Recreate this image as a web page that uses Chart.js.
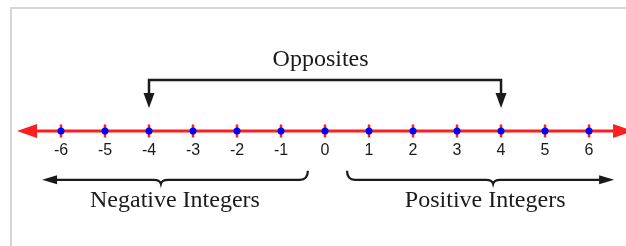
<!DOCTYPE html>
<html>
<head>
<meta charset="utf-8">
<script src="https://cdn.jsdelivr.net/npm/chart.js@4.4.0/dist/chart.umd.min.js"></script>
<style>
  html, body { margin: 0; padding: 0; background: #fff; overflow: hidden; }
  #wrap { position: relative; width: 626px; height: 246px; overflow: hidden; }
  #frame { position: absolute; left: 10px; top: 7px; width: 660px; height: 300px; border-top: 2px solid #d6d6d6; border-left: 2px solid #d6d6d6; }
  canvas { position: absolute; left: 0; top: 0; }
</style>
</head>
<body>
<div id="wrap">
  <div id="frame"></div>
  <canvas id="numberLine" width="626" height="246"></canvas>
</div>
<script>
// integers marked on the line
const tickValues = [-6, -5, -4, -3, -2, -1, 0, 1, 2, 3, 4, 5, 6];
// the pair joined by the "Opposites" bracket
const oppositePair = [-4, 4];
// where the number line arrows end
const axisRange = [-7, 7];
// spans covered by the two braces, and where each brace has its point
const negativeRange = [-6.43, -0.39];
const positiveRange = [0.5, 6.57];
const braceCusps = [-3.73, 3.82];
const labelCenters = [-0.1, -3.41, 3.64];
const labelTexts = ['Opposites', 'Negative Integers', 'Positive Integers'];

const RED = 'rgb(255, 30, 30)';
const BLUE = '#0000ff';
const INK = '#1a1a1a';

// vertical levels (y scale units, number line at 0)
const bracketTop = 1.16;
const bracketTip = 0.52;
const braceLevel = -1.11;
const oppositesBaseline = 1.47;
const braceTextBaseline = -1.73;

function arrowHead(ctx, tx, ty, dir, len, half) {
    ctx.beginPath();
    ctx.moveTo(tx, ty);
    if (dir === 'left') {
        ctx.lineTo(tx + len, ty - half);
        ctx.lineTo(tx + len, ty + half);
    } else if (dir === 'right') {
        ctx.lineTo(tx - len, ty - half);
        ctx.lineTo(tx - len, ty + half);
    } else {
        ctx.lineTo(tx - half, ty - len);
        ctx.lineTo(tx + half, ty - len);
    }
    ctx.closePath();
    ctx.fill();
}

const drawings = {
    id: 'drawings',
    beforeDatasetsDraw(chart) {
        const { ctx, scales: { x, y } } = chart;
        const y0 = y.getPixelForValue(0);
        const xl = x.getPixelForValue(axisRange[0]);
        const xr = x.getPixelForValue(axisRange[1]);
        ctx.save();
        ctx.strokeStyle = RED;
        ctx.fillStyle = RED;
        ctx.lineWidth = 3;
        ctx.beginPath();
        ctx.moveTo(xl + 12, y0);
        ctx.lineTo(xr - 12, y0);
        ctx.stroke();
        arrowHead(ctx, xl, y0, 'left', 20, 7);
        arrowHead(ctx, xr, y0, 'right', 20, 7);
        ctx.restore();
    },
    afterDatasetsDraw(chart) {
        const { ctx, scales: { x, y } } = chart;
        ctx.save();
        ctx.strokeStyle = INK;
        ctx.fillStyle = INK;
        ctx.lineWidth = 2.5;
        ctx.lineJoin = 'miter';

        // opposites bracket
        const ax = x.getPixelForValue(oppositePair[0]);
        const bx = x.getPixelForValue(oppositePair[1]);
        const top = y.getPixelForValue(bracketTop);
        const tip = y.getPixelForValue(bracketTip);
        ctx.beginPath();
        ctx.moveTo(ax, tip - 12);
        ctx.lineTo(ax, top);
        ctx.lineTo(bx, top);
        ctx.lineTo(bx, tip - 12);
        ctx.stroke();
        arrowHead(ctx, ax, tip, 'down', 15, 5.5);
        arrowHead(ctx, bx, tip, 'down', 15, 5.5);

        // braces
        const yl = y.getPixelForValue(braceLevel);
        ctx.lineWidth = 2.2;
        const cusp = (cx) => {
            ctx.lineTo(cx - 7, yl);
            ctx.quadraticCurveTo(cx - 1, yl, cx, yl + 4);
            ctx.quadraticCurveTo(cx + 1, yl, cx + 7, yl);
        };
        // negative: arrow on the left, hook on the right
        const n0 = x.getPixelForValue(negativeRange[0]);
        const n1 = x.getPixelForValue(negativeRange[1]);
        ctx.beginPath();
        ctx.moveTo(n0 + 10, yl);
        cusp(x.getPixelForValue(braceCusps[0]));
        ctx.lineTo(n1 - 8, yl);
        ctx.quadraticCurveTo(n1, yl, n1, yl - 9);
        ctx.stroke();
        arrowHead(ctx, n0, yl, 'left', 15, 4.5);
        // positive: hook on the left, arrow on the right
        const p0 = x.getPixelForValue(positiveRange[0]);
        const p1 = x.getPixelForValue(positiveRange[1]);
        ctx.beginPath();
        ctx.moveTo(p0, yl - 9);
        ctx.quadraticCurveTo(p0, yl, p0 + 8, yl);
        cusp(x.getPixelForValue(braceCusps[1]));
        ctx.lineTo(p1 - 10, yl);
        ctx.stroke();
        arrowHead(ctx, p1, yl, 'right', 15, 4.5);

        // texts
        ctx.font = '24px "Liberation Serif", "Times New Roman", serif';
        ctx.textAlign = 'center';
        ctx.textBaseline = 'alphabetic';
        ctx.fillText(labelTexts[0], x.getPixelForValue(labelCenters[0]), y.getPixelForValue(oppositesBaseline));
        ctx.fillText(labelTexts[1], x.getPixelForValue(labelCenters[1]), y.getPixelForValue(braceTextBaseline));
        ctx.fillText(labelTexts[2], x.getPixelForValue(labelCenters[2]), y.getPixelForValue(braceTextBaseline));
        ctx.restore();
    }
};

const points = tickValues.map(v => ({ x: v, y: 0 }));

new Chart(document.getElementById('numberLine'), {
    type: 'scatter',
    data: {
        datasets: [
            {
                data: points,
                pointStyle: 'circle',
                pointRadius: 3.5,
                pointHoverRadius: 3.5,
                backgroundColor: BLUE,
                borderWidth: 0
            },
            {
                data: points,
                pointStyle: 'line',
                rotation: 90,
                pointRadius: 6.5,
                pointHoverRadius: 6.5,
                borderColor: RED,
                borderWidth: 2.5
            }
        ]
    },
    options: {
        responsive: false,
        devicePixelRatio: 1,
        animation: false,
        events: [],
        layout: { padding: 0, autoPadding: false },
        plugins: { legend: { display: false }, tooltip: { enabled: false } },
        scales: {
            x: {
                type: 'linear',
                min: -7.386,
                max: 6.84,
                position: { y: 0 },
                grid: { display: false, drawTicks: false },
                border: { display: false },
                afterBuildTicks: (scale) => {
                    scale.ticks = tickValues.map(value => ({ value }));
                },
                ticks: {
                    padding: 10,
                    autoSkip: false,
                    maxRotation: 0,
                    color: '#1a1a1a',
                    font: { family: '"Liberation Sans", Arial, sans-serif', size: 16 }
                }
            },
            y: {
                type: 'linear',
                min: -2.614,
                max: 2.977,
                display: false
            }
        }
    },
    plugins: [drawings]
});
</script>
</body>
</html>
